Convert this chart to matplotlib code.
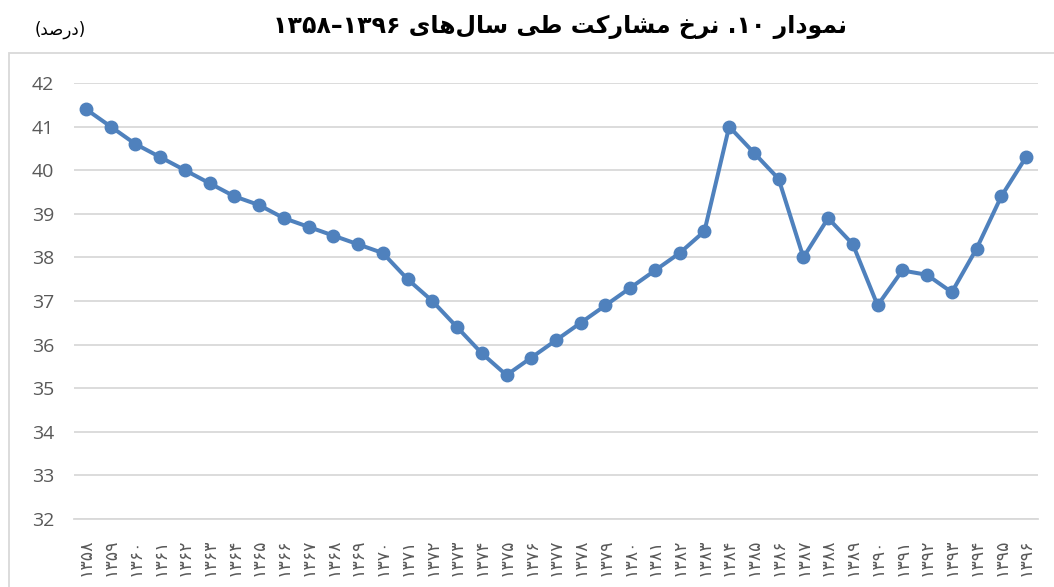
import re
import matplotlib
matplotlib.use('Agg')
import matplotlib.pyplot as plt
from matplotlib.patches import Rectangle

# data
years = [1358, 1359, 1360, 1361, 1362, 1363, 1364, 1365, 1366, 1367,
         1368, 1369, 1370, 1371, 1372, 1373, 1374, 1375, 1376, 1377,
         1378, 1379, 1380, 1381, 1382, 1383, 1384, 1385, 1386, 1387,
         1388, 1389, 1390, 1391, 1392, 1393, 1394, 1395, 1396]
rate = [41.4, 41.0, 40.6, 40.3, 40.0, 39.7, 39.4, 39.2, 38.9, 38.7,
        38.5, 38.3, 38.1, 37.5, 37.0, 36.4, 35.8, 35.3, 35.7, 36.1,
        36.5, 36.9, 37.3, 37.7, 38.1, 38.6, 41.0, 40.4, 39.8, 38.0,
        38.9, 38.3, 36.9, 37.7, 37.6, 37.2, 38.2, 39.4, 40.3]
yticks = [32, 33, 34, 35, 36, 37, 38, 39, 40, 41, 42]
title = 'نمودار ۱۰. نرخ مشارکت طی سال‌های ۱۳۹۶–۱۳۵۸'
unit = '(درصد)'

# matplotlib has no arabic shaping, so do a small one by hand
# (isolated, final, initial, medial)
FORMS = {
    'ا': ('\uFE8D', '\uFE8E', None, None),
    'د': ('\uFEA9', '\uFEAA', None, None),
    'ر': ('\uFEAD', '\uFEAE', None, None),
    'و': ('\uFEED', '\uFEEE', None, None),
    'ن': ('\uFEE5', '\uFEE6', '\uFEE7', '\uFEE8'),
    'م': ('\uFEE1', '\uFEE2', '\uFEE3', '\uFEE4'),
    'خ': ('\uFEA5', '\uFEA6', '\uFEA7', '\uFEA8'),
    'ش': ('\uFEB5', '\uFEB6', '\uFEB7', '\uFEB8'),
    'ت': ('\uFE95', '\uFE96', '\uFE97', '\uFE98'),
    'ط': ('\uFEC1', '\uFEC2', '\uFEC3', '\uFEC4'),
    'س': ('\uFEB1', '\uFEB2', '\uFEB3', '\uFEB4'),
    'ل': ('\uFEDD', '\uFEDE', '\uFEDF', '\uFEE0'),
    'ه': ('\uFEE9', '\uFEEA', '\uFEEB', '\uFEEC'),
    'ص': ('\uFEB9', '\uFEBA', '\uFEBB', '\uFEBC'),
    'ک': ('\uFB8E', '\uFB8F', '\uFB90', '\uFB91'),
    'ی': ('\uFBFC', '\uFBFD', '\uFBFE', '\uFBFF'),
}


def shape(s):
    out = []
    for i, c in enumerate(s):
        if c not in FORMS:
            out.append(c)
            continue
        prev = s[i - 1] if i > 0 else ''
        nxt = s[i + 1] if i + 1 < len(s) else ''
        iso, fin, ini, med = FORMS[c]
        jp = prev in FORMS and FORMS[prev][2] is not None
        jn = nxt in FORMS and ini is not None
        if jp and jn:
            out.append(med)
        elif jp:
            out.append(fin)
        elif jn:
            out.append(ini)
        else:
            out.append(iso)
    return ''.join(out)


def fa(s):
    s = shape(s).replace('\u200c', '')
    parts = re.findall(r'[۰-۹]+|.', s)
    vis = ''.join(parts[::-1])
    return vis.translate(str.maketrans('()', ')('))


def fa_digits(n):
    return str(n).translate(str.maketrans('0123456789', '۰۱۲۳۴۵۶۷۸۹'))


fig = plt.figure(figsize=(10.54, 5.87), dpi=100)
ax = fig.add_axes([73.6 / 1054, 1 - 519 / 587, (1038.4 - 73.6) / 1054, (519 - 83) / 587])

x = list(range(len(years)))
ax.plot(x, rate, color='#4F81BD', lw=2.9, marker='o', ms=9,
        solid_joinstyle='round', zorder=3, clip_on=False)

ax.set_xlim(-0.5, len(years) - 0.5)
ax.set_ylim(32, 42)
ax.set_yticks(yticks)
ax.set_yticklabels([str(v) for v in yticks], fontsize=14, color='#595959',
                   family='Open Sans')
ax.set_xticks(x)
ax.set_xticklabels([fa_digits(y) for y in years], rotation=90, fontsize=12.5,
                   color='#595959', family='DejaVu Sans', va='top')
ax.tick_params(axis='both', length=0)
ax.tick_params(axis='y', pad=14)
ax.tick_params(axis='x', pad=14)
ax.grid(axis='y', color='#D9D9D9', lw=1.3)
ax.set_axisbelow(True)
for s in ['left', 'right', 'top']:
    ax.spines[s].set_visible(False)
ax.spines['bottom'].set_color('#D9D9D9')
ax.spines['bottom'].set_linewidth(1.3)

# chart border
fig.patches.append(Rectangle((8.5 / 1054, -0.05), 1.1, 1 - 53 / 587 + 0.05,
                             transform=fig.transFigure, fill=False,
                             edgecolor='#D9D9D9', lw=1.3))

fig.text(560 / 1054, 1 - 27 / 587, fa(title), ha='center', va='center',
         fontsize=17, fontweight='bold', family='DejaVu Sans')
fig.text(60 / 1054, 1 - 30 / 587, fa(unit), ha='center', va='center',
         fontsize=12, family='DejaVu Sans')

fig.savefig('out.png', dpi=100)
